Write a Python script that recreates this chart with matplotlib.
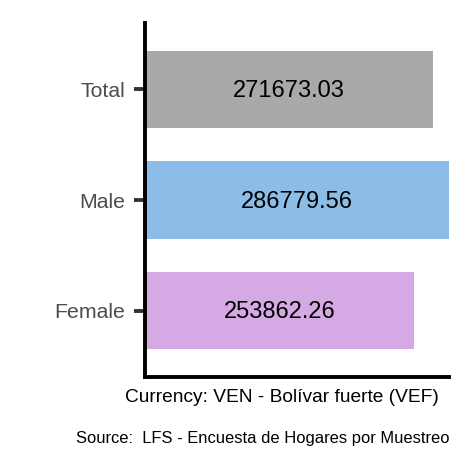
import matplotlib
matplotlib.use('Agg')
import matplotlib.pyplot as plt

plt.rcParams['font.family'] = ['Liberation Sans', 'DejaVu Sans']

# Data
categories = ['Female', 'Male', 'Total']
values = [253862.26, 286779.56, 271673.03]
colors = ['#D5A9E3', '#8BBDE8', '#A9A9A9']

fig = plt.figure(figsize=(4.72, 4.72), dpi=100)
# axes in pixels: left 145, right 449, top 23, bottom 377
ax = fig.add_axes([145/472, 1 - 377/472, (449-145)/472, (377-23)/472])

pos = range(1, len(categories) + 1)
ax.barh(pos, values, height=0.7, color=colors)
for p, v in zip(pos, values):
    ax.text(v / 2, p - 0.015, f'{v:.2f}', ha='center', va='center', fontsize=17, color='black')

ax.set_xlim(0, max(values))
ax.set_ylim(0.4, 3.6)
ax.set_yticks(list(pos))
ax.set_yticklabels(categories, fontsize=15.3, color='#4D4D4D')
ax.set_xticks([])

for s in ['top', 'right']:
    ax.spines[s].set_visible(False)
ax.spines['left'].set_linewidth(2.8)
ax.spines['bottom'].set_linewidth(2.8)
ax.tick_params(axis='y', length=8, width=2.8, color='#333333', pad=6.5)

fig.text(282/472, 1 - 397/472, 'Currency: VEN - Bolívar fuerte (VEF)',
         ha='center', va='center', fontsize=13.8, color='black')
fig.text(263/472, 1 - 438/472, 'Source:  LFS - Encuesta de Hogares por Muestreo',
         ha='center', va='center', fontsize=11.9, color='black')

fig.savefig('out.png', dpi=100, facecolor='white')
